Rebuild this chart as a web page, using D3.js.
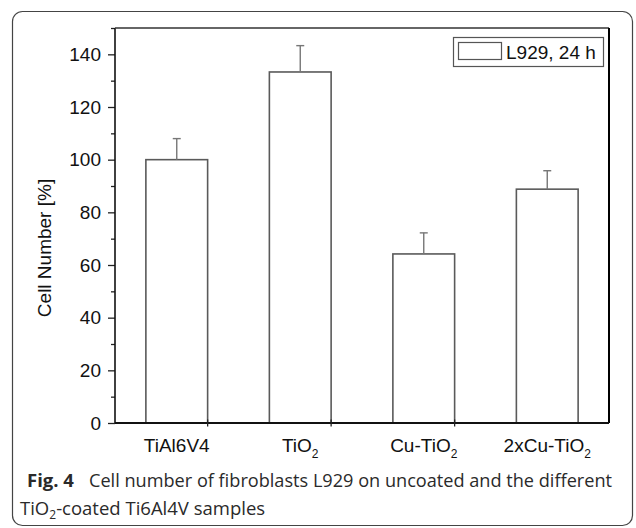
<!DOCTYPE html>
<html>
<head>
<meta charset="utf-8">
<script src="https://cdn.jsdelivr.net/npm/d3@7"></script>
<style>
  body { margin: 0; background: #fff; }
  svg { display: block; }
</style>
</head>
<body>
<div id="chart"></div>
<script>
// Données
const categories = ["TiAl6V4", "TiO2", "Cu-TiO2", "2xCu-TiO2"];
const labelMain = ["TiAl6V4", "TiO", "Cu-TiO", "2xCu-TiO"];
const labelSub = ["", "2", "2", "2"];
const cellNumber = [100, 133.3, 64.2, 88.8];
const errorUp = [8, 10, 8, 7];
const yTicks = [0, 20, 40, 60, 80, 100, 120, 140];
const yMinorTicks = [10, 30, 50, 70, 90, 110, 130, 150];
const legendLabel = "L929, 24 h";

const W = 636, H = 528;
const margin = { top: 28, right: 27, bottom: 105, left: 115 },
    width = W - margin.left - margin.right,
    height = H - margin.top - margin.bottom;

const svg = d3.select("#chart").append("svg")
    .attr("width", W)
    .attr("height", H);

// cadre arrondi de la figure
svg.append("rect")
    .attr("x", 12.5).attr("y", 11.5)
    .attr("width", 620).attr("height", 514)
    .attr("rx", 10)
    .attr("fill", "none")
    .attr("stroke", "#444")
    .attr("stroke-width", 1.2);

const g = svg.append("g")
    .attr("transform", `translate(${margin.left},${margin.top})`);

const x = d3.scaleBand()
    .domain(categories)
    .range([0, width])
    .paddingInner(0.5)
    .paddingOuter(0.25);

const y = d3.scaleLinear()
    .domain([0, 150])
    .range([height, 0]);

const font = "'Liberation Sans', Arial, sans-serif";

// barres
g.selectAll(".bar")
    .data(categories)
    .enter().append("rect")
    .attr("class", "bar")
    .attr("x", d => x(d))
    .attr("y", (d, i) => y(cellNumber[i]))
    .attr("width", x.bandwidth())
    .attr("height", (d, i) => height - y(cellNumber[i]))
    .attr("fill", "none")
    .attr("stroke", "#5a5a5a")
    .attr("stroke-width", 1.6);

// barres d'erreur (seulement vers le haut)
categories.forEach((d, i) => {
    const cx = x(d) + x.bandwidth() / 2;
    g.append("line")
        .attr("x1", cx).attr("x2", cx)
        .attr("y1", y(cellNumber[i]))
        .attr("y2", y(cellNumber[i] + errorUp[i]))
        .attr("stroke", "#777").attr("stroke-width", 1.4);
    g.append("line")
        .attr("x1", cx - 4).attr("x2", cx + 4)
        .attr("y1", y(cellNumber[i] + errorUp[i]))
        .attr("y2", y(cellNumber[i] + errorUp[i]))
        .attr("stroke", "#777").attr("stroke-width", 1.4);
});

// axe Y
const yAxis = g.append("g")
    .call(d3.axisLeft(y).tickValues(yTicks).tickSize(7).tickPadding(7))
    .call(a => a.select(".domain").remove());
yAxis.selectAll("line").attr("stroke", "#222").attr("stroke-width", 1.3);
yAxis.selectAll("text")
    .attr("font-family", font)
    .attr("font-size", 19)
    .attr("fill", "#111");

g.append("g")
    .call(d3.axisLeft(y).tickValues(yMinorTicks).tickSize(4).tickFormat(""))
    .call(a => a.select(".domain").remove())
    .selectAll("line").attr("stroke", "#222").attr("stroke-width", 1.3);

// cadre du graphique
g.append("line").attr("x1", 0).attr("x2", 0).attr("y1", 0).attr("y2", height)
    .attr("stroke", "#111").attr("stroke-width", 1.6);
g.append("line").attr("x1", 0).attr("x2", width).attr("y1", 0).attr("y2", 0)
    .attr("stroke", "#333").attr("stroke-width", 1.4);
g.append("line").attr("x1", width).attr("x2", width).attr("y1", 0).attr("y2", height)
    .attr("stroke", "#000").attr("stroke-width", 2);
g.append("line").attr("x1", 0).attr("x2", width).attr("y1", height).attr("y2", height)
    .attr("stroke", "#111").attr("stroke-width", 1.8);

// graduations X entre les groupes
categories.slice(1).forEach(d => {
    const tx = x(d) - x.step() * x.paddingInner() / 2 - x.step() * 0.25;
    g.append("line")
        .attr("x1", tx).attr("x2", tx)
        .attr("y1", height - 3.5).attr("y2", height + 3.5)
        .attr("stroke", "#222").attr("stroke-width", 1.3);
});

// étiquettes X avec indice
categories.forEach((d, i) => {
    const t = g.append("text")
        .attr("x", x(d) + x.bandwidth() / 2)
        .attr("y", height + 29)
        .attr("text-anchor", "middle")
        .attr("font-family", font)
        .attr("font-size", 19)
        .attr("fill", "#111");
    t.append("tspan").text(labelMain[i]);
    if (labelSub[i]) {
        t.append("tspan")
            .attr("dy", 6)
            .attr("font-size", 12)
            .text(labelSub[i]);
    }
});

// titre axe Y
svg.append("text")
    .attr("transform", "translate(51,248) rotate(-90)")
    .attr("text-anchor", "middle")
    .attr("font-family", font)
    .attr("font-size", 19)
    .attr("fill", "#111")
    .text("Cell Number [%]");

// légende
const legend = svg.append("g");
legend.append("rect")
    .attr("x", 453.5).attr("y", 37.5)
    .attr("width", 150).attr("height", 29)
    .attr("fill", "#fff")
    .attr("stroke", "#555").attr("stroke-width", 1.2);
legend.append("rect")
    .attr("x", 458.5).attr("y", 42.5)
    .attr("width", 43).attr("height", 17)
    .attr("fill", "none")
    .attr("stroke", "#555").attr("stroke-width", 1.2);
legend.append("text")
    .attr("x", 506).attr("y", 59)
    .attr("font-family", font)
    .attr("font-size", 19)
    .attr("fill", "#111")
    .text(legendLabel);

// légende de la figure
const capFont = "'Open Sans', 'Noto Sans', sans-serif";
const cap1 = svg.append("text")
    .attr("x", 27).attr("y", 487)
    .attr("font-family", capFont)
    .attr("font-size", 18.5)
    .attr("fill", "#2a2a2a");
cap1.append("tspan").attr("font-weight", "bold").text("Fig. 4");
svg.append("text")
    .attr("x", 89).attr("y", 487)
    .attr("font-family", capFont)
    .attr("font-size", 18.5)
    .attr("fill", "#2a2a2a")
    .attr("textLength", 523)
    .attr("lengthAdjust", "spacingAndGlyphs")
    .text("Cell number of fibroblasts L929 on uncoated and the different");

const cap2 = svg.append("text")
    .attr("x", 20).attr("y", 515)
    .attr("font-family", capFont)
    .attr("font-size", 18.5)
    .attr("fill", "#2a2a2a");
cap2.append("tspan").text("TiO");
cap2.append("tspan").attr("dy", 4).attr("font-size", 12).text("2");
cap2.append("tspan").attr("dy", -4).text("-coated Ti6Al4V samples");
</script>
</body>
</html>
